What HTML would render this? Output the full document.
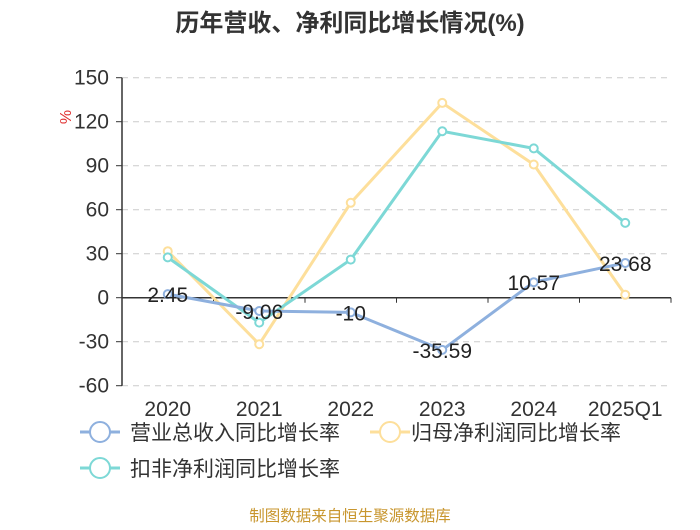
<!DOCTYPE html>
<html><head><meta charset="utf-8"><style>
body{margin:0;background:#fff;}
svg text{font-family:"Liberation Sans","Noto Sans CJK SC",sans-serif;}
</style></head><body>
<svg width="700" height="525" viewBox="0 0 700 525">
<text x="350" y="31" text-anchor="middle" font-size="24" font-weight="bold" fill="#333">历年营收、净利同比增长情况(%)</text>
<text transform="translate(71,117) rotate(-90)" text-anchor="middle" font-size="16" fill="#e03030">%</text>
<g id="grid"></g><g id="axes"></g><g id="series"></g><g id="labels"></g>
<g>
<g><line x1="80" y1="432" x2="120" y2="432" stroke="#8eb0de" stroke-width="3"/><circle cx="100" cy="432" r="10" fill="#fff" stroke="#8eb0de" stroke-width="2"/><text x="130" y="440" font-size="21" fill="#333">营业总收入同比增长率</text></g>
<g><line x1="370" y1="432" x2="410" y2="432" stroke="#fddf9b" stroke-width="3"/><circle cx="390" cy="432" r="10" fill="#fff" stroke="#fddf9b" stroke-width="2"/><text x="411" y="440" font-size="21" fill="#333">归母净利润同比增长率</text></g>
<g><line x1="80" y1="468" x2="120" y2="468" stroke="#7dd8d6" stroke-width="3"/><circle cx="100" cy="468" r="10" fill="#fff" stroke="#7dd8d6" stroke-width="2"/><text x="130" y="476" font-size="21" fill="#333">扣非净利润同比增长率</text></g>
</g>
<text x="350" y="521" text-anchor="middle" font-size="15.5" fill="#c8962e">制图数据来自恒生聚源数据库</text>
</svg>
<script>
const categories=["2020","2021","2022","2023","2024","2025Q1"];
const revenueGrowth=[2.45,-9.06,-10,-35.59,10.57,23.68];
const netProfitGrowth=[31.7,-31.7,64.7,132.8,90.8,2];
const deductedProfitGrowth=[27.5,-17,26,113.5,101.8,51];
const yTicks=[150,120,90,60,30,0,-30,-60];
const NS="http://www.w3.org/2000/svg";
const left=122,right=671,yTop=77.7,yBot=385.7,yMin=-60,yMax=150;
const band=(right-left)/categories.length;
const x=i=>left+band*(i+0.5);
const y=v=>yBot-(v-yMin)/(yMax-yMin)*(yBot-yTop);
function mk(tag,attrs,parent){const e=document.createElementNS(NS,tag);for(const k in attrs)e.setAttribute(k,attrs[k]);document.getElementById(parent).appendChild(e);return e;}
yTicks.forEach(t=>{
  if(t!==0){const g=mk('line',{x1:left,x2:right,y1:y(t),y2:y(t),stroke:'#ccc','stroke-dasharray':'6,5'},'grid');
  
  }
  const tk=mk('line',{x1:left-6,x2:left,y1:y(t),y2:y(t),stroke:'#333'},'axes');
  
  
  const tl=mk('text',{x:left-13,y:y(t)+7,'text-anchor':'end','font-size':'21',fill:'#333'},'axes');tl.textContent=t;
  
  
});
const ax=mk('line',{x1:left,x2:left,y1:yTop,y2:yBot,stroke:'#333','stroke-width':1.5},'axes');


const zl=mk('line',{x1:left,x2:right,y1:y(0),y2:y(0),stroke:'#333','stroke-width':1.5},'axes');


categories.forEach((c,i)=>{
  const tk=mk('line',{x1:left+band*(i+1),x2:left+band*(i+1),y1:y(0),y2:y(0)+5,stroke:'#333'},'axes');
  
  
  const t=mk('text',{x:x(i),y:416,'text-anchor':'middle','font-size':'21',fill:'#333'},'axes');t.textContent=c;
  
  
});
function series(vals,color,name){
  const p=mk('polyline',{points:vals.map((v,i)=>x(i)+','+y(v)).join(' '),fill:'none',stroke:color,'stroke-width':3},'series');
  
  
  vals.forEach((v,i)=>{const c=mk('circle',{cx:x(i),cy:y(v),r:4,fill:'#fff',stroke:color,'stroke-width':2},'series');
  
  });
}
series(netProfitGrowth,'#fddf9b','net-profit');
series(deductedProfitGrowth,'#7dd8d6','deducted-profit');
series(revenueGrowth,'#8eb0de','revenue');
revenueGrowth.forEach((v,i)=>{
  const t=mk('text',{x:x(i),y:y(v)+8,'text-anchor':'middle','font-size':'21',fill:'#222'},'labels');t.textContent=v;
  
  
});
</script>
</body></html>
